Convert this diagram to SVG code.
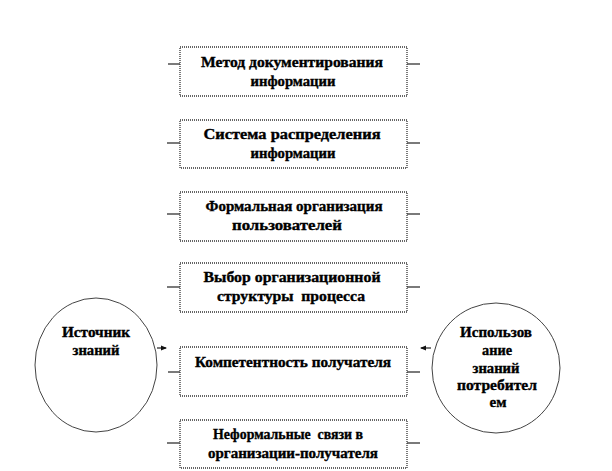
<svg xmlns="http://www.w3.org/2000/svg" width="612" height="471" viewBox="0 0 612 471">
<style>
.box{fill:#fff;stroke:#333;stroke-width:1.3;stroke-dasharray:1 1}
.stub{stroke:#222;stroke-width:1.2;fill:none}
.circ{fill:#fff;stroke:#444;stroke-width:1}
.t{font-family:'Liberation Serif','DejaVu Serif',serif;font-weight:bold;font-size:14px;fill:#000;stroke:#000;stroke-width:0.35;text-anchor:middle;white-space:pre}
.arr{stroke:#222;stroke-width:1.2;fill:none}
</style>
<defs>
<marker id="ah" markerWidth="6" markerHeight="6" refX="5" refY="3" orient="auto" markerUnits="userSpaceOnUse">
<path d="M0,0.5 L6,3 L0,5.5 Z" fill="#111"/>
</marker>
</defs>
<rect width="612" height="471" fill="#fff"/>
<g id="connectors">
<line class="stub" x1="168" y1="64" x2="180" y2="64"/><line class="stub" x1="407" y1="64" x2="420" y2="64"/>
<line class="stub" x1="167" y1="143" x2="180" y2="143"/><line class="stub" x1="407" y1="143" x2="420" y2="143"/>
<line class="stub" x1="167" y1="214" x2="180" y2="214"/><line class="stub" x1="407" y1="214" x2="420" y2="214"/>
<line class="stub" x1="167" y1="287" x2="180" y2="287"/><line class="stub" x1="407" y1="287" x2="420" y2="287"/>
<line class="stub" x1="168" y1="372" x2="180" y2="372"/><line class="stub" x1="407" y1="372" x2="420" y2="372"/>
<line class="stub" x1="167" y1="443" x2="180" y2="443"/><line class="stub" x1="407" y1="443" x2="420" y2="443"/>
<line class="arr" x1="157" y1="348" x2="166" y2="348" marker-end="url(#ah)"/>
<line class="arr" x1="431" y1="348" x2="421" y2="348" marker-end="url(#ah)"/>
</g>
<g id="box1"><rect class="box" x="180" y="47" width="227" height="49"/>
<text class="t" x="292" y="67" textLength="182" lengthAdjust="spacingAndGlyphs">Метод документирования</text>
<text class="t" x="293" y="86" textLength="85" lengthAdjust="spacingAndGlyphs">информации</text></g>
<g id="box2"><rect class="box" x="180" y="120" width="227" height="48"/>
<text class="t" x="292" y="139" textLength="177" lengthAdjust="spacingAndGlyphs">Система распределения</text>
<text class="t" x="293" y="158" textLength="85" lengthAdjust="spacingAndGlyphs">информации</text></g>
<g id="box3"><rect class="box" x="180" y="192" width="227" height="49"/>
<text class="t" x="294" y="211" textLength="177" lengthAdjust="spacingAndGlyphs">Формальная организация</text>
<text class="t" x="287" y="230" textLength="110" lengthAdjust="spacingAndGlyphs">пользователей</text></g>
<g id="box4"><rect class="box" x="180" y="263" width="227" height="49"/>
<text class="t" x="292" y="282" textLength="177" lengthAdjust="spacingAndGlyphs">Выбор организационной</text>
<text class="t" x="291" y="301" textLength="148" lengthAdjust="spacingAndGlyphs">структуры  процесса</text></g>
<g id="box5"><rect class="box" x="180" y="347" width="227" height="49"/>
<text class="t" x="293" y="367" textLength="196" lengthAdjust="spacingAndGlyphs">Компетентность получателя</text></g>
<g id="box6"><rect class="box" x="180" y="420" width="227" height="48"/>
<text class="t" x="288" y="439" textLength="150" lengthAdjust="spacingAndGlyphs">Неформальные  связи в</text>
<text class="t" x="293" y="458" textLength="170" lengthAdjust="spacingAndGlyphs">организации-получателя</text></g>
<g id="source"><ellipse class="circ" cx="96" cy="365" rx="61" ry="67"/>
<text class="t" x="96" y="337" textLength="68" lengthAdjust="spacingAndGlyphs">Источник</text>
<text class="t" x="96" y="355" textLength="47" lengthAdjust="spacingAndGlyphs">знаний</text></g>
<g id="consumer"><ellipse class="circ" cx="496" cy="368" rx="64" ry="65"/>
<text class="t" x="496" y="337" textLength="72" lengthAdjust="spacingAndGlyphs">Использов</text>
<text class="t" x="497" y="355" textLength="30" lengthAdjust="spacingAndGlyphs">ание</text>
<text class="t" x="496" y="373" textLength="47" lengthAdjust="spacingAndGlyphs">знаний</text>
<text class="t" x="497" y="390" textLength="80" lengthAdjust="spacingAndGlyphs">потребител</text>
<text class="t" x="498" y="407" textLength="17" lengthAdjust="spacingAndGlyphs">ем</text></g>
</svg>
